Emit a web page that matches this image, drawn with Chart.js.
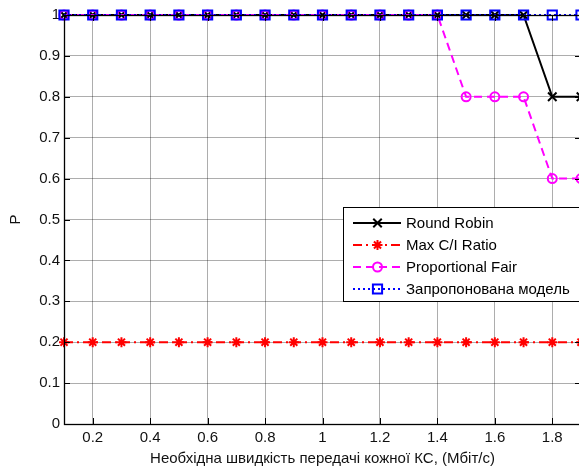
<!DOCTYPE html>
<html>
<head>
<meta charset="utf-8">
<script src="https://cdn.jsdelivr.net/npm/chart.js@4/dist/chart.umd.min.js"></script>
<style>
  html, body { margin: 0; padding: 0; background: #fff; overflow: hidden; }
  canvas { display: block; }
</style>
</head>
<body>
<canvas id="c" width="582" height="468"></canvas>
<script>
// Required data rate per subscriber station, Mbit/s
const rates = [0.1, 0.2, 0.3, 0.4, 0.5, 0.6, 0.7, 0.8, 0.9, 1.0, 1.1, 1.2, 1.3, 1.4, 1.5, 1.6, 1.7, 1.8, 1.9];

// Probability P for each scheduling algorithm
const roundRobin   = [1, 1, 1, 1, 1, 1, 1, 1, 1, 1, 1, 1, 1, 1, 1, 1, 1, 0.8, 0.8];
const maxCI        = [0.2, 0.2, 0.2, 0.2, 0.2, 0.2, 0.2, 0.2, 0.2, 0.2, 0.2, 0.2, 0.2, 0.2, 0.2, 0.2, 0.2, 0.2, 0.2];
const propFair     = [1, 1, 1, 1, 1, 1, 1, 1, 1, 1, 1, 1, 1, 1, 0.8, 0.8, 0.8, 0.6, 0.6];
const proposed     = [1, 1, 1, 1, 1, 1, 1, 1, 1, 1, 1, 1, 1, 1, 1, 1, 1, 1, 1];

const seriesNames = ['Round Robin', 'Max C/I Ratio', 'Proportional Fair', 'Запропонована модель'];

const xTicks = [0.2, 0.4, 0.6, 0.8, 1.0, 1.2, 1.4, 1.6, 1.8];
const yTicks = [0, 0.1, 0.2, 0.3, 0.4, 0.5, 0.6, 0.7, 0.8, 0.9, 1];

const FONT = "'Liberation Sans', Arial, sans-serif";

function pts(ys) { return rates.map((x, i) => ({ x: x, y: ys[i] })); }

const datasets = [
  { label: seriesNames[0], data: pts(roundRobin), borderColor: '#000000', borderWidth: 2,
    pointStyle: 'crossRot', pointRadius: 6, pointBorderColor: '#000000', pointBorderWidth: 2,
    pointBackgroundColor: 'rgba(0,0,0,0)', borderDash: [], order: 4 },
  { label: seriesNames[1], data: pts(maxCI), borderColor: '#ff0000', borderWidth: 2,
    pointStyle: 'star', pointRadius: 5, pointBorderColor: '#ff0000', pointBorderWidth: 2,
    pointBackgroundColor: 'rgba(0,0,0,0)', borderDash: [9, 4, 2, 4], order: 3 },
  { label: seriesNames[2], data: pts(propFair), borderColor: '#ff00ff', borderWidth: 2,
    pointStyle: 'circle', pointRadius: 4.5, pointBorderColor: '#ff00ff', pointBorderWidth: 2,
    pointBackgroundColor: 'rgba(0,0,0,0)', borderDash: [8, 5], order: 2 },
  { label: seriesNames[3], data: pts(proposed), borderColor: '#0000ff', borderWidth: 2,
    pointStyle: 'rect', pointRadius: 6.5, pointBorderColor: '#0000ff', pointBorderWidth: 2,
    pointBackgroundColor: 'rgba(0,0,0,0)', borderDash: [2, 3], order: 1 }
];
datasets.forEach(d => { d.clip = false; d.tension = 0; d.fill = false; d.pointHoverRadius = d.pointRadius; });

// Marker drawing used by the legend
function marker(ctx, style, x, y, r) {
  ctx.beginPath();
  if (style === 'circle') {
    ctx.arc(x, y, r, 0, Math.PI * 2);
  } else if (style === 'rect') {
    const s = Math.SQRT1_2 * r;
    ctx.rect(x - s, y - s, 2 * s, 2 * s);
  } else if (style === 'crossRot') {
    const s = Math.SQRT1_2 * r;
    ctx.moveTo(x - s, y - s); ctx.lineTo(x + s, y + s);
    ctx.moveTo(x - s, y + s); ctx.lineTo(x + s, y - s);
  } else if (style === 'star') {
    const s = Math.SQRT1_2 * r;
    ctx.moveTo(x - r, y); ctx.lineTo(x + r, y);
    ctx.moveTo(x, y - r); ctx.lineTo(x, y + r);
    ctx.moveTo(x - s, y - s); ctx.lineTo(x + s, y + s);
    ctx.moveTo(x - s, y + s); ctx.lineTo(x + s, y - s);
  }
  ctx.stroke();
}

// Inside tick marks, axes box and the legend
const framePlugin = {
  id: 'frame',
  afterDraw(chart) {
    const ctx = chart.ctx;
    const a = chart.chartArea;
    const xs = chart.scales.x, ys = chart.scales.y;
    ctx.save();
    ctx.strokeStyle = '#000';
    ctx.lineWidth = 1;
    ctx.setLineDash([]);
    const tl = 6;
    ctx.beginPath();
    xTicks.forEach(v => {
      const px = Math.round(xs.getPixelForValue(v)) + 0.5;
      ctx.moveTo(px, a.bottom); ctx.lineTo(px, a.bottom - tl);
      ctx.moveTo(px, a.top); ctx.lineTo(px, a.top + tl);
    });
    yTicks.forEach(v => {
      const py = Math.round(ys.getPixelForValue(v)) + 0.5;
      ctx.moveTo(a.left, py); ctx.lineTo(a.left + tl, py);
      ctx.moveTo(a.right, py); ctx.lineTo(a.right - tl, py);
    });
    ctx.stroke();
    ctx.lineWidth = 1.3;
    ctx.strokeRect(Math.round(a.left) + 0.5, Math.round(a.top) + 0.5,
                   Math.round(a.right - a.left), Math.round(a.bottom - a.top));

    // legend
    const lx = 343.5, ly = 207.5, lw = 260, lh = 94;
    ctx.fillStyle = '#fff';
    ctx.fillRect(lx, ly, lw, lh);
    ctx.lineWidth = 1;
    ctx.strokeStyle = '#000';
    ctx.strokeRect(lx, ly, lw, lh);
    ctx.font = '15px ' + FONT;
    ctx.textBaseline = 'middle';
    ctx.textAlign = 'left';
    datasets.forEach((d, i) => {
      const y = 223 + i * 22;
      ctx.strokeStyle = d.borderColor;
      ctx.lineWidth = d.borderWidth;
      ctx.setLineDash(d.borderDash);
      ctx.beginPath();
      ctx.moveTo(353, y); ctx.lineTo(401, y);
      ctx.stroke();
      ctx.setLineDash([]);
      ctx.lineWidth = d.pointBorderWidth;
      marker(ctx, d.pointStyle, 377.5, y, d.pointRadius);
      ctx.fillStyle = '#000';
      ctx.fillText(d.label, 406, y + 1);
    });
    ctx.restore();
  }
};

new Chart(document.getElementById('c'), {
  type: 'line',
  data: { datasets: datasets },
  options: {
    responsive: false,
    animation: false,
    events: [],
    layout: { autoPadding: false, padding: { top: 15, right: 1, left: 0, bottom: 0 } },
    plugins: { legend: { display: false }, tooltip: { enabled: false } },
    scales: {
      x: {
        type: 'linear', min: 0.1, max: 1.9,
        afterBuildTicks: s => { s.ticks = xTicks.map(v => ({ value: v })); },
        afterFit: s => { s.height = 44; s.paddingLeft = 0; s.paddingRight = 0; },
        ticks: { color: '#111', font: { family: FONT, size: 15 }, padding: 5,
                 maxRotation: 0, autoSkip: false,
                 callback: v => String(Math.round(v * 10) / 10) },
        grid: { color: 'rgba(0,0,0,0.32)', lineWidth: 1, drawTicks: false },
        border: { display: false },
        title: { display: true, text: 'Необхідна швидкість передачі кожної КС, (Мбіт/с)',
                 color: '#111', font: { family: FONT, size: 15 }, padding: { top: 0, bottom: 0 } }
      },
      y: {
        type: 'linear', min: 0, max: 1,
        afterBuildTicks: s => { s.ticks = yTicks.map(v => ({ value: v })); },
        afterFit: s => { s.width = 64; s.paddingTop = 0; s.paddingBottom = 0; },
        ticks: { color: '#111', font: { family: FONT, size: 15 }, padding: 4, autoSkip: false,
                 callback: v => String(Math.round(v * 10) / 10) },
        grid: { color: 'rgba(0,0,0,0.32)', lineWidth: 1, drawTicks: false },
        border: { display: false },
        title: { display: true, text: 'P', color: '#111',
                 font: { family: FONT, size: 15 }, padding: { top: 7, bottom: 0 } }
      }
    }
  },
  plugins: [framePlugin]
});
</script>
</body>
</html>
